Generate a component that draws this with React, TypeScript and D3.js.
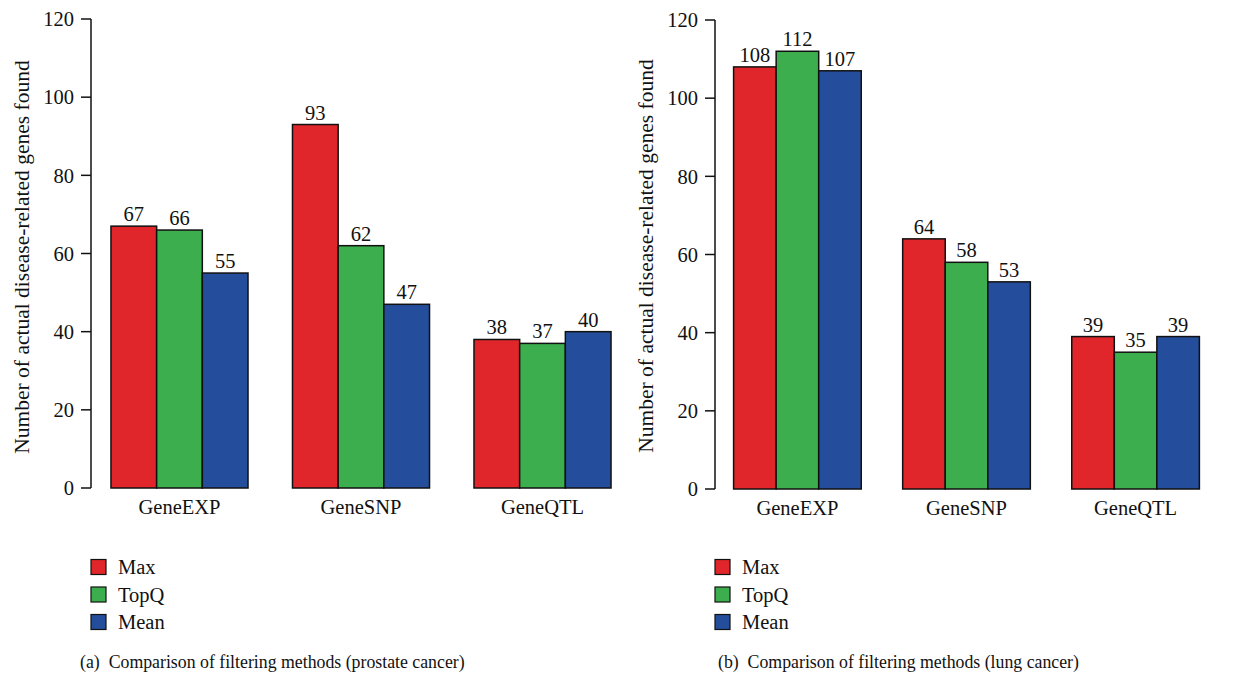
import * as d3 from "d3"

const categories = ["GeneEXP", "GeneSNP", "GeneQTL"]
const methods = ["Max", "TopQ", "Mean"]
const colors = ["#e1262b", "#3cae4e", "#244e9b"]
const yTicks = [0, 20, 40, 60, 80, 100, 120]

// values per category, in the order Max, TopQ, Mean
const prostateValues = [
    [67, 66, 55],
    [93, 62, 47],
    [38, 37, 40],
]
const lungValues = [
    [108, 112, 107],
    [64, 58, 53],
    [39, 35, 39],
]

const FONT = "'Liberation Serif', 'Times New Roman', serif"

type PanelProps = {
    values: number[][]
    axisX: number
    rangeEnd: number
    yTop: number
    yBottom: number
    labelX: number
    labelY: number
    legendX: number
    caption: string
    captionX: number
}

function Panel({ values, axisX, rangeEnd, yTop, yBottom, labelX, labelY, legendX, caption, captionX }: PanelProps) {
    const x = d3.scaleBand<string>()
        .domain(categories)
        .range([axisX, rangeEnd])
        .paddingInner(0.245)
        .paddingOuter(0.11)
    const inner = d3.scaleBand<string>()
        .domain(methods)
        .range([0, x.bandwidth()])
    const y = d3.scaleLinear().domain([0, 120]).range([yBottom, yTop])

    return (
        <g fontFamily={FONT} fill="#111">
            {/* y axis */}
            <line x1={axisX} x2={axisX} y1={y(0)} y2={y(120)} stroke="#111" strokeWidth={1.5} />
            {yTicks.map(t => (
                <g key={t}>
                    <line x1={axisX - 10} x2={axisX} y1={y(t)} y2={y(t)} stroke="#111" strokeWidth={1.5} />
                    <text x={axisX - 17} y={y(t)} dy="0.35em" textAnchor="end" fontSize={20.5}>{t}</text>
                </g>
            ))}
            <text
                transform={`translate(${labelX},${labelY}) rotate(-90)`}
                textAnchor="middle"
                fontSize={21.5}
            >
                Number of actual disease-related genes found
            </text>

            {/* bars */}
            {categories.map((c, ci) => (
                <g key={c} transform={`translate(${x(c)},0)`}>
                    {methods.map((m, mi) => {
                        const v = values[ci][mi]
                        const bx = inner(m) ?? 0
                        return (
                            <g key={m}>
                                <rect
                                    x={bx}
                                    y={y(v)}
                                    width={inner.bandwidth()}
                                    height={y(0) - y(v)}
                                    fill={colors[mi]}
                                    stroke="#111"
                                    strokeWidth={1.5}
                                />
                                <text x={bx + inner.bandwidth() / 2} y={y(v) - 5} textAnchor="middle" fontSize={20.5}>{v}</text>
                            </g>
                        )
                    })}
                    <text x={x.bandwidth() / 2} y={y(0) + 26} textAnchor="middle" fontSize={20.5}>{c}</text>
                </g>
            ))}

            {/* legend */}
            {methods.map((m, mi) => (
                <g key={m} transform={`translate(${legendX},${567 + mi * 27.5})`}>
                    <rect x={0} y={-7.5} width={15} height={15} fill={colors[mi]} stroke="#111" strokeWidth={1.2} />
                    <text x={27} y={0} dy="0.35em" fontSize={20.5}>{m}</text>
                </g>
            ))}

            <text x={captionX} y={668} fontSize={17.8} xmlSpace="preserve">{caption}</text>
        </g>
    )
}

export default function App() {
    return (
        <svg width={1234} height={679} style={{ display: "block", position: "absolute", left: 0, top: 0 }}>
            <rect width={1234} height={679} fill="#fff" />
            <Panel
                values={prostateValues}
                axisX={91}
                rangeEnd={631}
                yTop={19}
                yBottom={488}
                labelX={29}
                labelY={257}
                legendX={91}
                caption="(a)  Comparison of filtering methods (prostate cancer)"
                captionX={80}
            />
            <Panel
                values={lungValues}
                axisX={715}
                rangeEnd={1218}
                yTop={20}
                yBottom={489}
                labelX={653}
                labelY={256}
                legendX={715}
                caption="(b)  Comparison of filtering methods (lung cancer)"
                captionX={718}
            />
        </svg>
    )
}
